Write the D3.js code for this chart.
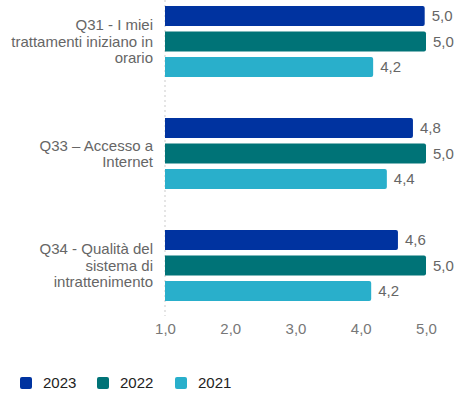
<!DOCTYPE html>
<html>
<head>
<meta charset="utf-8">
<script src="https://cdn.jsdelivr.net/npm/d3@7"></script>
<style>
  body { margin: 0; background: #fff; }
  text { font-family: "Liberation Sans", Arial, sans-serif; }
</style>
</head>
<body>
<div id="chart"></div>
<script>
// data
var categories = [
  ["Q31 - I miei", "trattamenti iniziano in", "orario"],
  ["Q33 \u2013 Accesso a", "Internet"],
  ["Q34 - Qualit\u00e0 del", "sistema di", "intrattenimento"]
];
var series = ["2023", "2022", "2021"];
var colors = ["#0033a0", "#007377", "#29afcb"];
var v2023 = [4.98, 4.8, 4.57];
var v2022 = [5.0, 5.0, 5.0];
var v2021 = [4.19, 4.4, 4.16];
var ticks = [1, 2, 3, 4, 5];

var values = [v2023, v2022, v2021];
var width = 455, height = 396;

var svg = d3.select('#chart').append('svg')
    .attr('width', width)
    .attr('height', height);

var x = d3.scaleLinear().domain([1, 5]).range([165, 426]);
var y = d3.scaleBand().domain(d3.range(categories.length)).range([-14.5, 321.5]);
var barH = 20, barStep = 25.5;
var fmt = function(d) { return d3.format('.1f')(d).replace('.', ','); };

// dotted base line
svg.append('line')
    .attr('x1', x(1)).attr('x2', x(1))
    .attr('y1', 0).attr('y2', 316)
    .attr('stroke', '#ddd')
    .attr('stroke-width', 1.5)
    .attr('stroke-dasharray', '2,3');

var groups = svg.selectAll('g.cat')
    .data(categories)
    .enter().append('g')
    .attr('class', 'cat')
    .attr('transform', function(d, i) { return 'translate(0,' + (y(i) + y.bandwidth() / 2) + ')'; });

series.forEach(function(s, si) {
    groups.append('path')
        .attr('fill', colors[si])
        .attr('d', function(d, i) {
            var x0 = x(1), x1 = x(values[si][i]), r = 2;
            var top = (si - 1) * barStep - barH / 2, bot = top + barH;
            return 'M' + x0 + ',' + top + 'H' + (x1 - r) + 'Q' + x1 + ',' + top + ' ' + x1 + ',' + (top + r) +
                'V' + (bot - r) + 'Q' + x1 + ',' + bot + ' ' + (x1 - r) + ',' + bot + 'H' + x0 + 'Z';
        });
    groups.append('text')
        .attr('x', function(d, i) { return x(values[si][i]) + 7; })
        .attr('y', (si - 1) * barStep)
        .attr('dy', '0.35em')
        .attr('fill', '#666')
        .style('font-size', '15px')
        .text(function(d, i) { return fmt(values[si][i]); });
});

// category labels
groups.append('text')
    .attr('text-anchor', 'end')
    .attr('fill', '#666')
    .style('font-size', '15px')
    .each(function(d) {
        var t = d3.select(this);
        var lh = 16.5;
        d.forEach(function(line, li) {
            t.append('tspan')
                .attr('x', 153)
                .attr('y', (li - (d.length - 1) / 2) * lh)
                .attr('dy', '0.35em')
                .text(line);
        });
    });

// x axis
var xAxis = d3.axisBottom(x).tickValues(ticks).tickFormat(fmt).tickSize(0).tickPadding(0);
var ax = svg.append('g').attr('transform', 'translate(0,323)').call(xAxis);
ax.select('.domain').remove();
ax.selectAll('text').attr('fill', '#777').style('font-size', '15px')
    .style('font-family', '"Liberation Sans", Arial, sans-serif');

// legend
var legendX = [20, 97, 175];
var leg = svg.selectAll('g.leg')
    .data(series)
    .enter().append('g')
    .attr('class', 'leg')
    .attr('transform', function(d, i) { return 'translate(' + legendX[i] + ',377)'; });
leg.append('rect')
    .attr('width', 12).attr('height', 12).attr('rx', 2)
    .attr('fill', function(d, i) { return colors[i]; });
leg.append('text')
    .attr('x', 23).attr('y', 6).attr('dy', '0.35em')
    .attr('fill', '#222')
    .style('font-size', '15px')
    .text(function(d) { return d; });
</script>
</body>
</html>
